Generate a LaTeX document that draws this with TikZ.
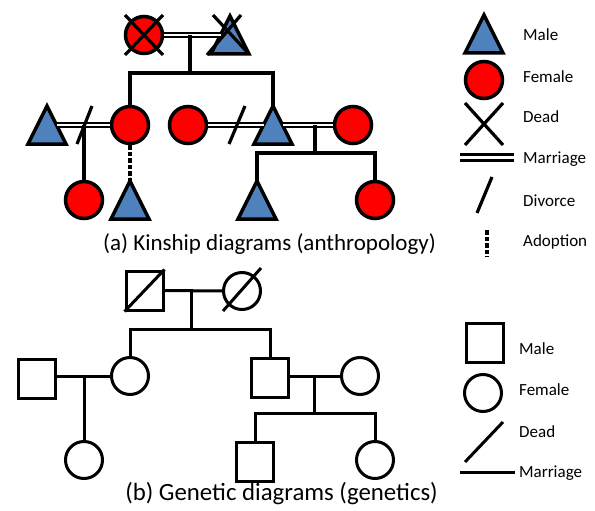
\documentclass[tikz,border=0pt]{standalone}
\usepackage{fontspec}
\setmainfont{Carlito}
\usetikzlibrary{calc}
\definecolor{mblue}{HTML}{4F81BD}
\definecolor{fred}{HTML}{FF0000}
\tikzset{
  ln/.style={line width=3.2pt},
  bl/.style={line width=3pt},
  fem/.style={circle, draw, line width=3.5pt, fill=fred, minimum size=37pt, inner sep=0pt},
  circ/.style={circle, draw, line width=3pt, minimum size=37pt, inner sep=0pt},
  sq/.style={rectangle, draw, line width=3pt, minimum width=37pt, minimum height=39pt, inner sep=0pt},
  tribox/.style={rectangle, minimum width=38pt, minimum height=38pt, inner sep=0pt, outer sep=0pt},
  malefill/.style={draw, line width=3.5pt, fill=mblue, line join=miter},
  marr/.style={line width=1.9pt, double, double distance=1.6pt},
  adopt/.style={line width=3.2pt, dash pattern=on 4.5pt off 2pt},
  lab/.style={anchor=base west, inner sep=0pt, font=\fontsize{17}{20}\selectfont},
  captext/.style={anchor=base, inner sep=0pt},
}
\newcommand{\mytri}[1]{\draw[malefill] (#1.north) -- (#1.south east) -- (#1.south west) -- cycle;}
\begin{document}
\begin{tikzpicture}[x=1pt, y=-1pt]
\useasboundingbox (0,0) rectangle (595,511);
% ===== (a) Kinship =====
\node[fem] (f0) at (144,35) {};
\node[tribox] (m0) at (230,35) {};
\mytri{m0}
\draw[ln] (125,15) -- (163,55) (163,15) -- (125,55);
\draw[ln] (213,15) -- (249,54) (241,15) -- (207,55);
\coordinate (m0l) at ($(m0.north)!0.5!(m0.south west)$);
\draw[marr] (f0.east) -- (m0l);
\coordinate (c0) at (190,35);
\coordinate (j0) at (190,73);
% generation 2
\node[tribox] (mA) at (47,125) {};
\mytri{mA}
\node[fem] (fA) at (130,125) {};
\node[fem] (fB) at (188,125) {};
\node[tribox] (mB) at (273,125) {};
\mytri{mB}
\node[fem] (fC) at (353,125) {};
\draw[ln] (c0) -- (j0);
\draw[ln] (fA.north) |- (j0) -| (mB.north);
\coordinate (mAr) at ($(mA.north)!0.5!(mA.south east)$);
\coordinate (mBl) at ($(mB.north)!0.5!(mB.south west)$);
\coordinate (mBr) at ($(mB.north)!0.5!(mB.south east)$);
\draw[marr] (mAr) -- (fA.west);
\draw[marr] (fB.east) -- (mBl);
\draw[marr] (mBr) -- (fC.west);
\draw[ln] (92,106) -- (77,144);
\draw[ln] (245,106) -- (229,144);
% generation 3
\node[fem] (fD) at (84,200) {};
\node[tribox] (mD) at (130,200) {};
\mytri{mD}
\node[tribox] (mE) at (257,200) {};
\mytri{mE}
\node[fem] (fE) at (375,200) {};
\coordinate (cA) at (84,125);
\draw[ln] (cA) -- (fD.north);
\draw[adopt] (fA.south) -- (mD.north);
\coordinate (cB) at (315,125);
\coordinate (jB) at (315,153);
\draw[ln] (cB) -- (jB);
\draw[ln] (mE.north) |- (jB) -| (fE.north);
\node[captext, font=\fontsize{23}{27}\selectfont] (capa) at (269.5,250) {(a) Kinship diagrams (anthropology)};
% legend (a)
\node[tribox] (lm) at (484,34) {};
\mytri{lm}
\node[lab] (lmt) at (523,40.5) {Male};
\node[fem] (lf) at (484,80) {};
\node[lab] (lft) at (523,83) {Female};
\draw[ln] (465,103) -- (503,145) (503,103) -- (465,145);
\node[lab] (ldt) at (523,123) {Dead};
\coordinate (lma) at (460,157.5);
\coordinate (lmb) at (514,157.5);
\draw[line width=2.8pt, double, double distance=3.3pt] (lma) -- (lmb);
\node[lab] (lmat) at (523,164) {Marriage};
\draw[ln] (492,177) -- (477,213);
\node[lab] (ldvt) at (523,206) {Divorce};
\coordinate (lada) at (487,230);
\coordinate (ladb) at (487,257);
\draw[adopt] (lada) -- (ladb);
\node[lab] (ladt) at (523,246) {Adoption};
% ===== (b) Genetic =====
\node[sq] (s0) at (144.5,290.5) {};
\draw[bl] (s0.south west) -- (s0.north east);
\node[circ] (g0) at (242,291) {};
\draw[bl] ($(g0.center)+(-19,20)$) -- ($(g0.center)+(19,-23)$);
\draw[bl] (s0.east) -- (g0.west);
\coordinate (c1) at (191,291);
\coordinate (j1) at (191,329);
\node[sq] (sL) at (36.5,378.5) {};
\node[circ] (gL) at (130,376) {};
\node[sq] (sR) at (270,378) {};
\node[circ] (gR) at (360,376) {};
\draw[bl] (c1) -- (j1);
\draw[bl] (gL.north) |- (j1) -| (sR.north);
\draw[bl] (sL.east |- gL.west) -- (gL.west);
\draw[bl] (sR.east |- gR.west) -- (gR.west);
\node[circ] (gL2) at (84,460) {};
\coordinate (cL) at (84,376);
\draw[bl] (cL) -- (gL2.north);
\node[sq] (sC) at (255,461.5) {};
\node[circ] (gC) at (375,460) {};
\coordinate (cR) at (314,376);
\coordinate (jR) at (314,413);
\draw[bl] (cR) -- (jR);
\draw[bl] (sC.north) |- (jR) -| (gC.north);
\node[captext, font=\fontsize{24.8}{28}\selectfont] (capb) at (281.5,500) {(b) Genetic diagrams (genetics)};
% legend (b)
\node[sq] (lsq) at (484.5,342.5) {};
\node[lab] (lsqt) at (519,354) {Male};
\node[circ] (lci) at (483,393) {};
\node[lab] (lcit) at (519,395) {Female};
\coordinate (lda) at (465,462);
\coordinate (ldb) at (503,422);
\draw[bl] (lda) -- (ldb);
\node[lab] (ldbt) at (519,437) {Dead};
\coordinate (lmra) at (460,472);
\draw[bl] (lmra) -- (515,472);
\node[lab] (lmrt) at (519,477) {Marriage};
\end{tikzpicture}
\end{document}
